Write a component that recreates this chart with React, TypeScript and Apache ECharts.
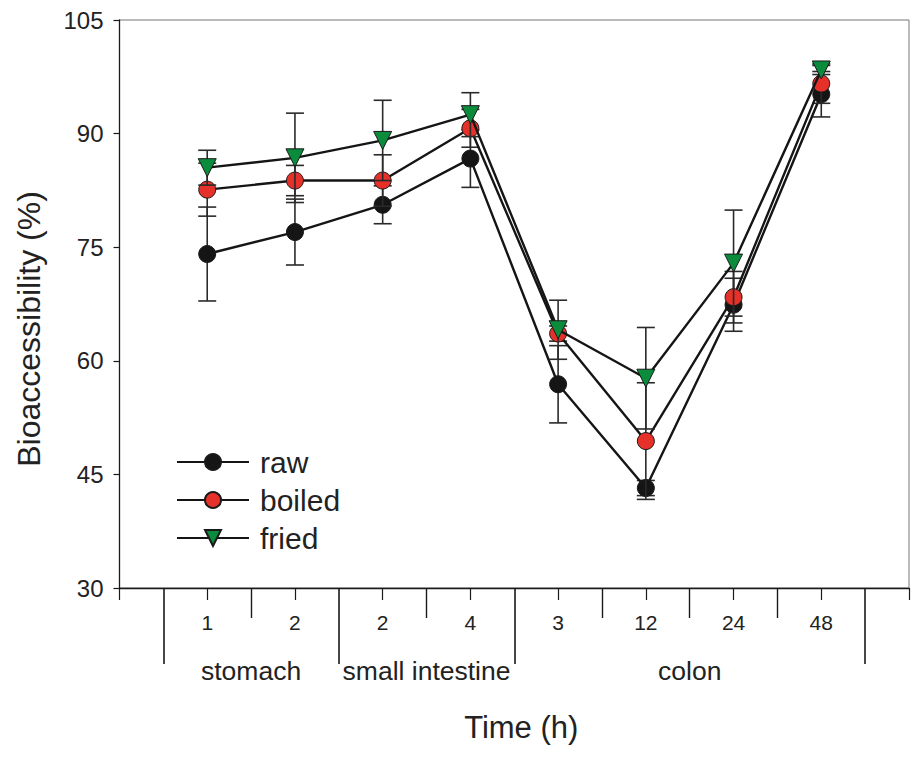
import React, { useEffect, useRef } from "react";
import * as echarts from "echarts";

// ---- data ----
const tickLabels = ["1", "2", "2", "4", "3", "12", "24", "48"];
const groupNames = ["stomach", "small intestine", "colon"];
const groupSizes = [2, 2, 4];
const seriesNames = ["raw", "boiled", "fried"];

const rawValues = [74.1, 77.0, 80.6, 86.7, 56.9, 43.2, 67.4, 95.2];
const rawErrors = [6.2, 4.35, 2.5, 3.8, 5.1, 1.0, 3.5, 3.0];
const boiledValues = [82.6, 83.8, 83.8, 90.7, 63.6, 49.4, 68.4, 96.6];
const boiledErrors = [3.5, 2.0, 3.4, 2.5, 1.0, 7.7, 3.4, 2.6];
const friedValues = [85.5, 86.8, 89.1, 92.5, 64.1, 57.7, 72.9, 98.4];
const friedErrors = [2.3, 5.9, 5.3, 2.9, 3.9, 6.7, 7.0, 0.6];

const yTicks = [30, 45, 60, 75, 90, 105];

// ---- derived layout helpers ----
const nCat = tickLabels.length;
const halfSteps: string[] = [];
for (let i = 0; i <= (nCat + 1) * 2; i++) halfSteps.push(String(i / 2));

const longTicks: number[] = [];
const mediumTicks: number[] = [];
const groupCenters: number[] = [];
{
  let start = 1;
  longTicks.push(start - 0.5);
  groupSizes.forEach((size) => {
    const end = start + size - 1;
    for (let k = start; k < end; k++) mediumTicks.push(k + 0.5);
    groupCenters.push((start + end) / 2);
    longTicks.push(end + 0.5);
    start = end + 1;
  });
}

const FONT = "'Liberation Sans', Arial, Helvetica, sans-serif";
const COLORS = ["#151515", "#e5312a", "#0b8c3d"];
const SYMBOLS = ["circle", "circle", "triangle"];
const ROTATE = [0, 0, 180];

export default function App() {
  const ref = useRef<HTMLDivElement>(null);

  useEffect(() => {
    if (!ref.current) return;
    const chart = echarts.init(ref.current, null, { renderer: "svg" });

    const values = [rawValues, boiledValues, friedValues];
    const errors = [rawErrors, boiledErrors, friedErrors];

    const series: any[] = [];
    values.forEach((vals, s) => {
      series.push({
        name: seriesNames[s] + " error",
        type: "custom",
        xAxisIndex: 0,
        yAxisIndex: 0,
        z: 2 + s * 2,
        silent: true,
        data: vals.map((v, i) => [i + 1, v, errors[s][i]]),
        encode: { x: 0, y: 1 },
        renderItem: (params: any, api: any) => {
          const x = api.value(0);
          const y = api.value(1);
          const e = api.value(2);
          const top = api.coord([x, y + e]);
          const bot = api.coord([x, y - e]);
          const hw = 9;
          const style = { stroke: "#2a2a2a", lineWidth: 1.6 };
          return {
            type: "group",
            children: [
              { type: "line", shape: { x1: top[0], y1: top[1], x2: bot[0], y2: bot[1] }, style },
              { type: "line", shape: { x1: top[0] - hw, y1: top[1], x2: top[0] + hw, y2: top[1] }, style },
              { type: "line", shape: { x1: bot[0] - hw, y1: bot[1], x2: bot[0] + hw, y2: bot[1] }, style },
            ],
          };
        },
      });
      series.push({
        name: seriesNames[s],
        type: "line",
        xAxisIndex: 0,
        yAxisIndex: 0,
        z: 3 + s * 2,
        data: vals.map((v, i) => [i + 1, v]),
        symbol: SYMBOLS[s],
        symbolSize: s === 2 ? 18 : 17,
        symbolRotate: ROTATE[s],
        lineStyle: { color: "#151515", width: 2.4 },
        itemStyle: { color: COLORS[s], borderColor: "#1a1a1a", borderWidth: 1 },
      });
    });

    const option: any = {
      animation: false,
      backgroundColor: "#ffffff",
      textStyle: { fontFamily: FONT },
      grid: {
        left: 119.5,
        top: 20,
        width: 789.8,
        height: 568,
        show: true,
        borderColor: "#777777",
        borderWidth: 1,
        containLabel: false,
      },
      legend: {
        data: seriesNames,
        orient: "vertical",
        left: 171,
        top: 442,
        itemWidth: 72,
        itemHeight: 20,
        itemGap: 8,
        textStyle: { fontSize: 30, color: "#222", fontFamily: FONT, padding: [0, 0, 0, 6] },
      },
      xAxis: [
        {
          type: "value",
          position: "bottom",
          min: 0,
          max: nCat + 1,
          interval: 1,
          splitLine: { show: false },
          axisLine: { show: true, lineStyle: { color: "#1a1a1a", width: 1.3 } },
          axisTick: { show: true, length: 12, lineStyle: { color: "#1a1a1a", width: 1.2 } },
          axisLabel: {
            margin: 24,
            fontSize: 21,
            color: "#222",
            fontFamily: FONT,
            formatter: (v: number) =>
              v >= 1 && v <= nCat && Number.isInteger(v) ? tickLabels[v - 1] : "",
          },
          name: "Time (h)",
          nameLocation: "middle",
          nameGap: 124,
          nameTextStyle: { fontSize: 31, color: "#222", fontFamily: FONT, padding: [0, 0, 0, 14] },
        },
        {
          type: "category",
          position: "bottom",
          boundaryGap: false,
          data: halfSteps,
          axisLine: { show: false },
          axisTick: {
            show: true,
            length: 30,
            interval: (idx: number, val: string) => mediumTicks.includes(Number(val)),
            lineStyle: { color: "#1a1a1a", width: 1.4 },
          },
          axisLabel: {
            show: true,
            margin: 69,
            fontSize: 26.5,
            color: "#222",
            fontFamily: FONT,
            interval: (idx: number, val: string) => groupCenters.includes(Number(val)),
            formatter: (val: string) => {
              const gi = groupCenters.indexOf(Number(val));
              return gi >= 0 ? groupNames[gi] : "";
            },
          },
        },
        {
          type: "category",
          position: "bottom",
          boundaryGap: false,
          data: halfSteps,
          axisLine: { show: false },
          axisTick: {
            show: true,
            length: 76,
            interval: (idx: number, val: string) => longTicks.includes(Number(val)),
            lineStyle: { color: "#1a1a1a", width: 1.6 },
          },
          axisLabel: { show: false },
        },
      ],
      yAxis: {
        type: "value",
        min: yTicks[0],
        max: yTicks[yTicks.length - 1],
        interval: yTicks[1] - yTicks[0],
        splitLine: { show: false },
        axisLine: { show: true, lineStyle: { color: "#1a1a1a", width: 1.3 } },
        axisTick: { show: true, length: 6, lineStyle: { color: "#1a1a1a", width: 1.2 } },
        axisLabel: { margin: 16, fontSize: 24, color: "#222", fontFamily: FONT },
        name: "Bioaccessibility (%)",
        nameLocation: "middle",
        nameGap: 75,
        nameTextStyle: { fontSize: 32, color: "#222", fontFamily: FONT, padding: [0, 50, 0, 0] },
      },
      series,
    };

    chart.setOption(option);
    return () => chart.dispose();
  }, []);

  return (
    <div
      ref={ref}
      style={{ position: "fixed", left: 0, top: 0, width: 912, height: 758, background: "#fff" }}
    />
  );
}
